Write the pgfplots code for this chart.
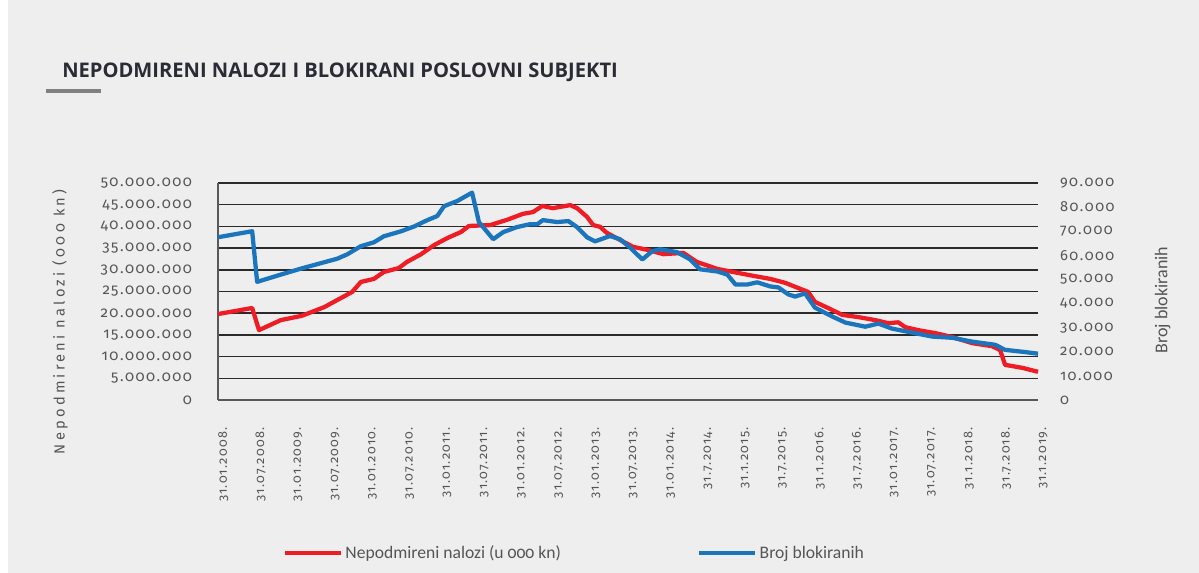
\documentclass[border=0pt]{standalone}
\usepackage{pgfplots}
\pgfplotsset{compat=1.18}
\usepackage{fontspec}
\setmainfont{Fira Sans}[Numbers=OldStyle]
\newfontfamily\titlefont{Open Sans}
\newfontfamily\tickfont{Fira Sans}[Numbers=OldStyle, LetterSpace=10]
\newfontfamily\ylabfont{Fira Sans}[Numbers=OldStyle, LetterSpace=22]
\newfontfamily\legfont{Carlito}[Numbers=OldStyle]
\definecolor{bg}{HTML}{EEEEEE}
\definecolor{redl}{HTML}{EE1C25}
\definecolor{bluel}{HTML}{1B75BC}
\definecolor{txt}{HTML}{555555}
\definecolor{titlecol}{HTML}{2B2B35}
\definecolor{gridc}{HTML}{2A2A2A}
\begin{document}
\begin{tikzpicture}
\fill[white] (0pt,0pt) rectangle (899.25pt,429.75pt);
\fill[bg] (6pt,0pt) rectangle (899.25pt,429.75pt);
\node[anchor=west, font=\titlefont\bfseries\fontsize{15.1}{17}\selectfont, text=titlecol, inner sep=0pt] at (46.5pt,375.75pt) {NEPODMIRENI NALOZI I BLOKIRANI POSLOVNI SUBJEKTI};
\draw[line width=2.3pt, color=gray] (34.5pt,361.5pt) -- (75.75pt,361.5pt);

\begin{axis}[
  at={(163.5pt,129.75pt)}, anchor=south west, scale only axis,
  width=615pt, height=162.75pt,
  xmin=0, xmax=132, ymin=0, ymax=50000000,
  axis x line*=bottom, axis y line*=left,
  axis line style={draw=gray!70!black, line width=1.2pt},
  major tick length=0pt,
  xtick={0,6,12,18,24,30,36,42,48,54,60,66,72,78,84,90,96,102,108,114,120,126,132},
  xticklabels={31.01.2008.,31.07.2008.,31.01.2009.,31.07.2009.,31.01.2010.,31.07.2010.,31.01.2011.,31.07.2011.,31.01.2012.,31.07.2012.,31.01.2013.,31.07.2013.,31.01.2014.,31.7.2014.,31.1.2015.,31.7.2015.,31.1.2016.,31.7.2016.,31.01.2017.,31.07.2017.,31.1.2018.,31.7.2018.,31.1.2019.},
  xticklabel style={xshift=4pt, rotate=90, anchor=east, font=\tickfont\fontsize{9.5}{11}\selectfont, text=txt},
  xticklabel shift=17pt,
  ytick={0,5000000,10000000,15000000,20000000,25000000,30000000,35000000,40000000,45000000,50000000},
  scaled y ticks=false,
  /pgf/number format/assume math mode=true,
  yticklabel={\pgfmathprintnumber[fixed,precision=0,1000 sep={.}]{\tick}},
  yticklabel style={font=\tickfont\fontsize{11.2}{13}\selectfont, text=txt, xshift=-16pt},
  ymajorgrids, grid style={gridc, line width=1.1pt},
  ylabel={Nepodmireni nalozi (000 kn)},
  ylabel style={at={(rel axis cs:-0.1927,0.36)}, anchor=center, font=\ylabfont\fontsize{11}{13}\selectfont, text=txt},
  clip=false,
]
\addplot[redl, line width=3.2pt, line join=round] coordinates {
(0,19800000) (5.5,21200000) (6.6,16100000) (10.1,18400000) (13.5,19400000) (17.1,21400000) (19.8,23500000) (21.6,24900000) (23.0,27200000) (25.1,27900000) (26.7,29500000) (29.1,30400000) (30.4,31800000) (32.7,33600000) (34.8,35700000) (36.9,37300000) (39.1,38700000) (40.4,40100000) (43.8,40300000) (46.5,41500000) (49.1,42900000) (50.7,43300000) (52.2,44700000) (53.9,44200000) (56.7,44900000) (57.8,44200000) (59.4,42200000) (60.4,40300000) (61.5,39900000) (62.6,38500000) (64.7,36900000) (66.8,35300000) (69.1,34600000) (71.7,33600000) (74.9,33900000) (77.1,31800000) (80.4,30200000) (82.9,29500000) (86.2,28600000) (88.9,27900000) (91.3,27000000) (93.4,25800000) (95.0,24900000) (96.1,22600000) (98.2,21200000) (100.5,19600000) (103.1,19100000) (105.8,18400000) (107.9,17700000) (109.5,17900000) (110.6,16800000) (112.7,16100000) (115.5,15400000) (118.2,14500000) (121.4,13100000) (124.6,12400000) (125.9,11500000) (126.7,8100000) (129.5,7400000) (132,6500000)
};
\end{axis}

\begin{axis}[
  at={(163.5pt,129.75pt)}, anchor=south west, scale only axis,
  width=615pt, height=162.75pt,
  xmin=0, xmax=132, ymin=0, ymax=90000,
  axis x line=none, axis y line*=right,
  y axis line style={draw=none},
  major tick length=0pt,
  ytick={0,10000,20000,30000,40000,50000,60000,70000,80000,90000},
  scaled y ticks=false,
  /pgf/number format/assume math mode=true,
  yticklabel={\pgfmathprintnumber[fixed,precision=0,1000 sep={.}]{\tick}},
  yticklabel style={font=\tickfont\fontsize{11}{13}\selectfont, text=txt, xshift=13pt},
  ylabel={Broj blokiranih},
  ylabel style={at={(rel axis cs:1.152,0.46)}, anchor=center, font=\legfont\fontsize{13.5}{15}\selectfont, text=txt},
  legend style={at={(0.435,-0.705)}, anchor=center, draw=none, fill=none, font=\legfont\fontsize{13.2}{15}\selectfont, text=txt, legend columns=2, /tikz/every even column/.append style={column sep=100pt}},
  legend image code/.code={\draw[#1, line width=3pt] (0pt,0pt) -- (42pt,0pt);},
  legend cell align=left,
  clip=false,
]
\addlegendimage{redl, line width=3pt}
\addlegendentry{Nepodmireni nalozi (u 000 kn)}
\addplot[bluel, line width=3.2pt, line join=round] coordinates {
(0,67500) (5.5,70000) (6.3,49000) (10.1,52000) (13.5,54600) (15.5,56000) (19.2,58600) (20.8,60400) (23.0,63800) (25.1,65400) (26.7,67900) (29.5,70000) (31.6,72000) (33.7,74600) (35.3,76300) (36.4,80400) (38.5,82500) (40.9,86000) (42.0,73800) (44.3,66700) (45.9,69600) (48.1,71700) (50.2,72900) (51.4,72900) (52.3,74600) (54.6,73800) (56.4,74200) (57.8,71700) (59.4,67500) (60.7,65800) (63.1,68000) (64.7,66700) (66.3,63300) (68.3,58300) (69.9,61700) (71.2,62500) (73.9,61300) (76.0,58300) (77.6,54200) (80.4,53300) (82.0,52000) (83.3,47900) (85.2,47900) (86.8,48800) (88.9,47100) (90.2,46700) (91.8,43800) (92.9,42900) (94.5,44200) (96.1,38300) (98.9,34600) (101.0,32100) (104.2,30400) (106.3,31700) (108.5,29600) (111.8,27900) (115.0,26300) (118.2,25800) (121.4,24200) (125.1,22900) (126.7,20800) (129.5,20000) (132,19200)
};
\addlegendentry{Broj blokiranih}
\end{axis}
\end{tikzpicture}
\end{document}
